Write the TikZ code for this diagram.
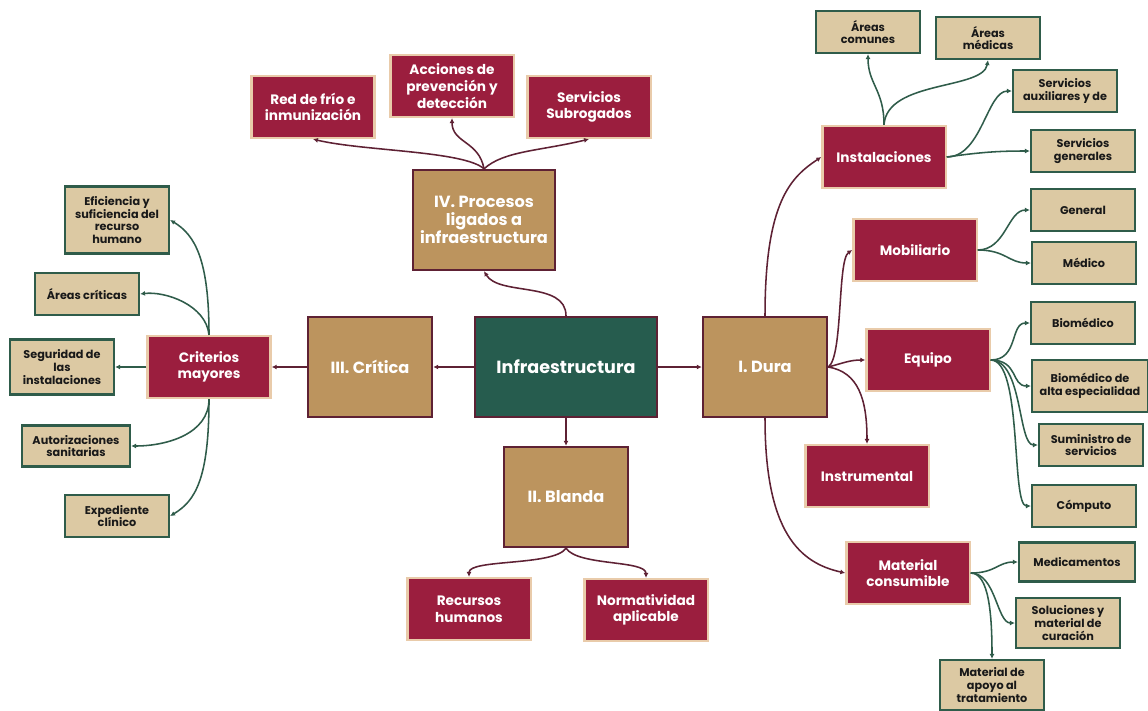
\documentclass[tikz,border=0pt]{standalone}
\usepackage{fontspec}
\setmainfont{Poppins}
\usetikzlibrary{positioning,arrows.meta}
\definecolor{rootgreen}{HTML}{265C4E}
\definecolor{gold}{HTML}{BC945E}
\definecolor{wine}{HTML}{9B1E3E}
\definecolor{winedark}{HTML}{5E2134}
\definecolor{cream}{HTML}{E9CBAA}
\definecolor{sand}{HTML}{DCC9A3}
\definecolor{pine}{HTML}{2F5C4A}
\def\rootfont{\fontsize{12.5}{15}\selectfont\bfseries}
\def\levelfont{\fontsize{11.5}{13}\selectfont\bfseries}
\def\redfont{\fontsize{9.7}{11.8}\selectfont\bfseries}
\def\leaffont{\fontsize{8}{9}\selectfont\bfseries}
\tikzset{
  root/.style={draw=winedark, line width=1.7pt, fill=rootgreen, text=white, font=\rootfont,
    minimum width=4.55cm, minimum height=2.5cm, align=center},
  level/.style={draw=winedark, line width=1.7pt, fill=gold, text=white, font=\levelfont,
    minimum width=3.1cm, minimum height=2.5cm, align=center},
  redbox/.style={draw=cream, line width=1.6pt, fill=wine, text=white, font=\redfont,
    minimum width=3.08cm, minimum height=1.55cm, align=center},
  leaf/.style={draw=pine, line width=1.6pt, fill=sand, text=black!90, font=\leaffont,
    minimum width=2.6cm, minimum height=1.05cm, align=center, inner sep=1pt},
  wline/.style={draw=winedark, line width=1.1pt, -{Latex[length=3.5pt,width=3.5pt]}},
  gline/.style={draw=pine, line width=1.1pt, -{Latex[length=3.5pt,width=3.5pt]}}
}
\begin{document}
\begin{tikzpicture}[x=0.025cm,y=-0.025cm]
\useasboundingbox (0,0) rectangle (1148,710);
\fill[white] (0,0) rectangle (1148,710);

\node[root] (infra) at (566,367) {Infraestructura};
\node[level] (critica) at (370,367) {III. Crítica};
\node[level] (dura) at (765,367) {I. Dura};
\node[level] (blanda) at (566,497) {II. Blanda};
\node[level, minimum width=3.55cm] (procesos) at (484,220) {IV. Procesos\\ligados a\\infraestructura};

\node[redbox] (frio) at (313,107) {Red de frío e\\inmunización};
\node[redbox] (acciones) at (452,86) {Acciones de\\prevención y\\detección};
\node[redbox] (subrog) at (589,107) {Servicios\\Subrogados};
\node[redbox] (recursos) at (469,609) {Recursos\\humanos};
\node[redbox] (normas) at (646,610) {Normatividad\\aplicable};
\node[redbox] (criterios) at (209,367) {Criterios\\mayores};

\node[leaf, minimum height=1.68cm] (eficiencia) at (117,220) {Eficiencia y\\suficiencia del\\recurso\\humano};
\node[leaf] (acriticas) at (87,294) {Áreas críticas};
\node[leaf, minimum height=1.38cm] (seguridad) at (62,367) {Seguridad de\\las\\instalaciones};
\node[leaf, minimum width=2.7cm, minimum height=1.03cm] (autoriz) at (76,446) {Autorizaciones\\sanitarias};
\node[leaf] (expediente) at (117,516) {Expediente\\clínico};

\node[redbox] (instal) at (884,157) {Instalaciones};
\node[redbox] (mobil) at (915,250) {Mobiliario};
\node[redbox] (equipo) at (928,360) {Equipo};
\node[redbox] (instrum) at (867,476) {Instrumental};
\node[redbox] (consum) at (908,573) {Material\\consumible};

\node[leaf] (acomunes) at (868,32) {Áreas\\comunes};
\node[leaf] (amedicas) at (988,38) {Áreas\\médicas};
\node[leaf] (sauxil) at (1065,91) {Servicios\\auxiliares y de};
\node[leaf] (sgener) at (1083,151) {Servicios\\generales};
\node[leaf] (general) at (1083,210) {General};
\node[leaf] (medico) at (1084,263) {Médico};
\node[leaf] (biomed) at (1083,323) {Biomédico};
\node[leaf, minimum width=2.9cm, minimum height=1.3cm] (bioalta) at (1090,386) {Biomédico de\\alta especialidad};
\node[leaf] (suminis) at (1091,445) {Suministro de\\servicios};
\node[leaf] (computo) at (1084,506) {Cómputo};
\node[leaf, minimum width=2.9cm, minimum height=0.98cm] (medicam) at (1077,562) {Medicamentos};
\node[leaf, minimum height=1.25cm] (solucion) at (1068,623) {Soluciones y\\material de\\curación};
\node[leaf, minimum height=1.25cm] (apoyo) at (992,685) {Material de\\apoyo al\\tratamiento};

\draw[wline] (infra.west) -- (critica.east);
\draw[wline] (infra.east) -- (dura.west);
\draw[wline] (infra.south) -- (blanda.north);
\draw[wline] (infra.north) .. controls +(0,-35) and +(15,25) .. (procesos.south);
\draw[wline] (procesos.north) .. controls +(-20,-18) and +(50,12) .. (frio.south);
\draw[wline] (procesos.north) .. controls +(-5,-28) and +(0,25) .. (acciones.south);
\draw[wline] (procesos.north) .. controls +(20,-18) and +(-50,12) .. (subrog.south);
\draw[wline] (blanda.south) .. controls +(-12,18) and +(0,-18) .. (recursos.north);
\draw[wline] (blanda.south) .. controls +(12,18) and +(0,-18) .. (normas.north);
\draw[wline] (critica.west) -- (criterios.east);

\draw[gline] (criterios.north) .. controls +(0,-75) and +(25,15) .. (eficiencia.east);
\draw[gline] (criterios.north) .. controls +(-3,-30) and +(25,-3) .. (acriticas.east);
\draw[gline] (criterios.west) -- (seguridad.east);
\draw[gline] (criterios.south) .. controls +(0,35) and +(35,0) .. (autoriz.east);
\draw[gline] (criterios.south) .. controls +(0,80) and +(25,-15) .. (expediente.east);

\draw[wline] (dura.north) .. controls +(0,-115) and +(-30,20) .. (instal.west);
\draw[wline] (dura.east) .. controls +(15,-10) and +(-15,10) .. (mobil.west);
\draw[wline] (dura.east) .. controls +(15,-4) and +(-15,0) .. (equipo.west);
\draw[wline] (dura.east) .. controls +(30,5) and +(0,-45) .. (instrum.north);
\draw[wline] (dura.south) .. controls +(0,115) and +(-45,-10) .. (consum.west);

\draw[gline] (instal.north) .. controls +(0,-35) and +(0,30) .. (acomunes.south);
\draw[gline] (instal.north) .. controls +(3,-45) and +(-5,30) .. (amedicas.south);
\draw[gline] (instal.east) .. controls +(35,0) and +(-25,0) .. (sauxil.west);
\draw[gline] (instal.east) .. controls +(35,-5) and +(-30,0) .. (sgener.west);

\draw[gline] (mobil.east) .. controls +(28,0) and +(-22,0) .. (general.west);
\draw[gline] (mobil.east) .. controls +(28,0) and +(-22,0) .. (medico.west);
\draw[gline] (equipo.east) .. controls +(28,0) and +(-20,0) .. (biomed.west);
\draw[gline] (equipo.east) .. controls +(28,0) and +(-20,0) .. (bioalta.west);
\draw[gline] (equipo.east) .. controls +(32,0) and +(-20,0) .. (suminis.west);
\draw[gline] (equipo.east) .. controls +(32,0) and +(-20,0) .. (computo.west);

\draw[gline] (consum.east) .. controls +(25,0) and +(-20,0) .. (medicam.west);
\draw[gline] (consum.east) .. controls +(25,0) and +(-18,0) .. (solucion.west);
\draw[gline] (consum.east) .. controls +(18,0) and +(0,-45) .. (apoyo.north);
\end{tikzpicture}
\end{document}
